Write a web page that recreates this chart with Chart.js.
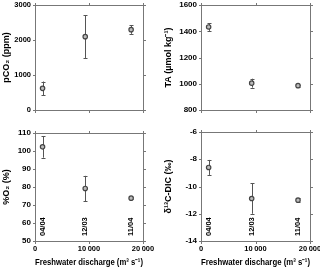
<!DOCTYPE html>
<html>
<head>
<meta charset="utf-8">
<script src="https://cdn.jsdelivr.net/npm/chart.js@4"></script>
<style>
  html, body { margin: 0; padding: 0; background: #fff; }
  #wrap { position: relative; width: 320px; height: 268px; }
  #wrap canvas { position: absolute; left: 0; top: 0; }
</style>
</head>
<body>
<div id="wrap">
  <canvas id="c1" width="320" height="268"></canvas>
  <canvas id="c2" width="320" height="268"></canvas>
  <canvas id="c3" width="320" height="268"></canvas>
  <canvas id="c4" width="320" height="268"></canvas>
</div>
<script>
// freshwater discharge (m3 s-1) for the three surveys
const discharge = [1400, 9300, 17800];
const surveyDates = ['04/04', '12/03', '11/04'];

const pco2 = [620, 2100, 2300];
const pco2Err = [195, 610, 120];
const ta = [1434, 1005, 986];
const taErr = [30, 34, 8];
const o2 = [102.3, 79.2, 73.8];
const o2Err = [6, 7, 0.5];
const d13c = [-8.6, -10.88, -11.0];
const d13cErr = [0.55, 1.12, 0.12];

const xTicks = [0, 10000, 20000];

const FONT = 'Liberation Sans, Arial, sans-serif';
const AXIS = '#777';

function fmtThousands(v) {
    return String(v).replace(/\B(?=(\d{3})+(?!\d))/g, '\u2009');
}

// box + outward ticks on all four sides
const framePlugin = {
    id: 'frame',
    afterDraw(chart) {
        const ctx = chart.ctx;
        const a = chart.chartArea;
        const xs = chart.scales.x, ys = chart.scales.y;
        const L = Math.round(a.left) + 0.5, R = Math.round(a.right) + 0.5;
        const T = Math.round(a.top) + 0.5, B = Math.round(a.bottom) + 0.5;
        ctx.save();
        ctx.strokeStyle = AXIS;
        ctx.lineWidth = 1;
        ctx.strokeRect(L, T, R - L, B - T);
        ctx.beginPath();
        xs.ticks.forEach(t => {
            const p = Math.round(xs.getPixelForValue(t.value)) + 0.5;
            ctx.moveTo(p, T); ctx.lineTo(p, T - 2.5);
            ctx.moveTo(p, B); ctx.lineTo(p, B + 2.5);
        });
        ys.ticks.forEach(t => {
            const p = Math.round(ys.getPixelForValue(t.value)) + 0.5;
            ctx.moveTo(L, p); ctx.lineTo(L - 2.5, p);
            ctx.moveTo(R, p); ctx.lineTo(R + 2.5, p);
        });
        ctx.stroke();
        ctx.restore();
    }
};

const errorBarPlugin = {
    id: 'errorBars',
    beforeDatasetsDraw(chart, args, opts) {
        const ctx = chart.ctx;
        const xs = chart.scales.x, ys = chart.scales.y;
        const pts = chart.data.datasets[0].data;
        ctx.save();
        ctx.strokeStyle = '#555';
        ctx.lineWidth = 1;
        ctx.beginPath();
        pts.forEach((p, i) => {
            const e = opts.errors[i];
            const x = Math.round(xs.getPixelForValue(p.x)) + 0.5;
            const y1 = ys.getPixelForValue(p.y + e);
            const y2 = ys.getPixelForValue(p.y - e);
            ctx.moveTo(x, y1); ctx.lineTo(x, y2);
            ctx.moveTo(x - 2, Math.round(y1) + 0.5); ctx.lineTo(x + 2, Math.round(y1) + 0.5);
            ctx.moveTo(x - 2, Math.round(y2) + 0.5); ctx.lineTo(x + 2, Math.round(y2) + 0.5);
        });
        ctx.stroke();
        ctx.restore();
    }
};

const dateLabelPlugin = {
    id: 'dateLabels',
    afterDraw(chart, args, opts) {
        if (!opts.show) return;
        const ctx = chart.ctx;
        const xs = chart.scales.x;
        ctx.save();
        ctx.fillStyle = '#000';
        ctx.font = 'bold 7.5px ' + FONT;
        ctx.textAlign = 'left';
        ctx.textBaseline = 'middle';
        discharge.forEach((d, i) => {
            ctx.save();
            ctx.translate(xs.getPixelForValue(d), chart.chartArea.bottom - 5);
            ctx.rotate(-Math.PI / 2);
            ctx.fillText(surveyDates[i], 0, 0);
            ctx.restore();
        });
        ctx.restore();
    }
};

function panel(id, box, y, values, errors, showX) {
    const xH = showX ? 27 : 0;
    new Chart(document.getElementById(id), {
        type: 'scatter',
        data: {
            datasets: [{
                data: discharge.map((x, i) => ({ x: x, y: values[i] })),
                pointRadius: 2.2,
                pointBorderWidth: 1.2,
                pointBackgroundColor: '#bbb',
                pointBorderColor: '#444'
            }]
        },
        options: {
            responsive: false,
            animation: false,
            events: [],
            layout: {
                padding: { left: box.l - box.yW, top: box.t, right: 320 - box.r, bottom: 268 - box.b - xH }
            },
            plugins: {
                legend: { display: false },
                tooltip: { enabled: false },
                errorBars: { errors: errors },
                dateLabels: { show: showX }
            },
            scales: {
                x: {
                    type: 'linear',
                    min: 0, max: 20000,
                    afterBuildTicks: s => { s.ticks = xTicks.map(v => ({ value: v })); },
                    ticks: {
                        display: showX,
                        callback: v => fmtThousands(v),
                        font: { family: FONT, size: 7.5, weight: 'bold' },
                        color: '#000',
                        padding: 3,
                        maxRotation: 0,
                        autoSkip: false
                    },
                    grid: { display: false, drawTicks: false },
                    border: { display: false },
                    title: {
                        display: showX,
                        text: 'Freshwater discharge (m³ s⁻¹)',
                        font: { family: FONT, size: 9, weight: 'bold' },
                        color: '#000',
                        padding: { top: 1, bottom: 0 }
                    },
                    afterFit: s => { s.height = xH; s.paddingLeft = 0; s.paddingRight = 0; }
                },
                y: {
                    min: y.min, max: y.max,
                    ticks: {
                        stepSize: y.step,
                        callback: v => String(v),
                        font: { family: FONT, size: y.tickSize, weight: 'bold' },
                        color: '#000',
                        padding: 4
                    },
                    grid: { display: false, drawTicks: false },
                    border: { display: false },
                    title: {
                        display: true,
                        text: y.title,
                        font: { family: FONT, size: 9, weight: 'bold' },
                        color: '#000',
                        padding: { top: 1, bottom: 0 }
                    },
                    afterFit: s => { s.width = box.yW; s.paddingTop = 0; s.paddingBottom = 0; }
                }
            }
        },
        plugins: [framePlugin, errorBarPlugin, dateLabelPlugin]
    });
}

panel('c1', { l: 35, t: 3, r: 143, b: 110, yW: 35 },
    { min: 0, max: 3000, step: 1000, tickSize: 7.5, title: 'pCO₂ (ppm)' }, pco2, pco2Err, false);
panel('c2', { l: 201, t: 3, r: 310, b: 110, yW: 39 },
    { min: 800, max: 1600, step: 200, tickSize: 8, title: 'TA (µmol kg⁻¹)' }, ta, taErr, false);
panel('c3', { l: 35, t: 133, r: 143, b: 241, yW: 35 },
    { min: 50, max: 110, step: 10, tickSize: 8, title: '%O₂ (%)' }, o2, o2Err, true);
panel('c4', { l: 201, t: 132, r: 310, b: 241, yW: 39 },
    { min: -14, max: -6, step: 2, tickSize: 8, title: 'δ¹³C-DIC (‰)' }, d13c, d13cErr, true);
</script>
</body>
</html>
